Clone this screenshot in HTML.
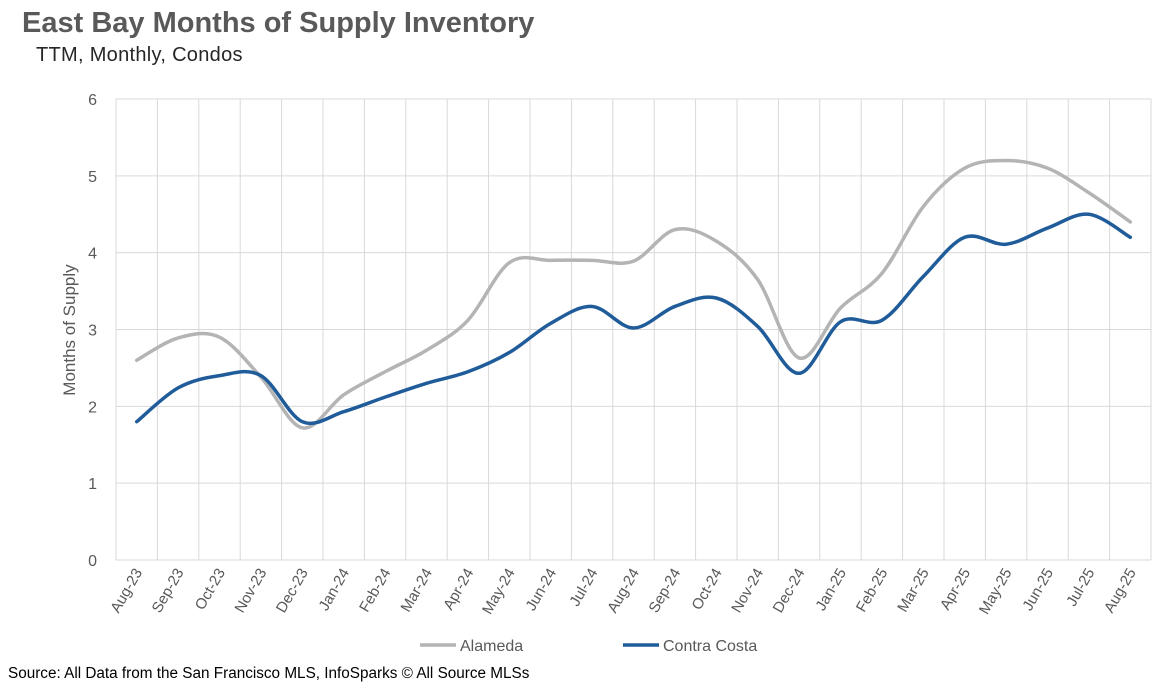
<!DOCTYPE html>
<html><head><meta charset="utf-8"><style>
body{margin:0;width:1170px;height:686px;background:#fff;font-family:"Liberation Sans",sans-serif;overflow:hidden;position:relative}
#title{position:absolute;left:22px;top:7px;font-size:29px;letter-spacing:0px;font-weight:bold;color:#595959}
#sub{position:absolute;left:36px;top:44px;font-size:20px;letter-spacing:0.3px;color:#262626}
#src{position:absolute;left:8px;top:665px;font-size:15.3px;color:#000}
</style></head><body>
<div id="title">East Bay Months of Supply Inventory</div>
<div id="sub">TTM, Monthly, Condos</div>
<svg id="chart" width="1170" height="686" style="position:absolute;left:0;top:0"></svg>
<div id="src">Source: All Data from the San Francisco MLS, InfoSparks © All Source MLSs</div>
<script>
const categories=["Aug-23","Sep-23","Oct-23","Nov-23","Dec-23","Jan-24","Feb-24","Mar-24","Apr-24","May-24","Jun-24","Jul-24","Aug-24","Sep-24","Oct-24","Nov-24","Dec-24","Jan-25","Feb-25","Mar-25","Apr-25","May-25","Jun-25","Jul-25","Aug-25"];
const alameda=[2.6,2.89,2.9,2.38,1.72,2.15,2.45,2.73,3.12,3.87,3.9,3.9,3.89,4.3,4.15,3.65,2.63,3.28,3.73,4.6,5.1,5.2,5.1,4.78,4.4];
const contraCosta=[1.8,2.24,2.4,2.4,1.8,1.93,2.12,2.3,2.45,2.7,3.08,3.3,3.02,3.3,3.41,3.04,2.43,3.1,3.12,3.69,4.2,4.11,4.32,4.5,4.2];
const yTicks=[0,1,2,3,4,5,6];
const NS="http://www.w3.org/2000/svg";
const svg=document.getElementById('chart');
const L=116,R=1151,T=99,B=560,step=(R-L)/categories.length;
const x=i=>L+step*(i+0.5);
const y=v=>B-(v/6)*(B-T);
function mk(t,a){const e=document.createElementNS(NS,t);for(const k in a)e.setAttribute(k,a[k]);svg.appendChild(e);return e;}
yTicks.forEach(v=>{
 const g=mk('line',{x1:L,x2:R,y1:y(v),y2:y(v),stroke:'#d9d9d9','stroke-width':1});
 
 
 const t=mk('text',{x:97,y:y(v)+6,'text-anchor':'end','font-size':16,fill:'#595959'});
 t.textContent=v;
 
 
});
for(let i=0;i<=categories.length;i++){
 const g=mk('line',{x1:L+step*i,x2:L+step*i,y1:T,y2:B,stroke:'#d9d9d9','stroke-width':1});
 
 
}
categories.forEach((c,i)=>{
 const t=mk('text',{x:x(i)+6,y:572,'text-anchor':'end','font-size':15,fill:'#595959',transform:`rotate(-60 ${x(i)+6} 572)`});
 t.textContent=c;
 
 
});
const yt=mk('text',{x:75,y:330,'text-anchor':'middle','font-size':17,fill:'#595959',transform:'rotate(-90 75 330)'});
yt.textContent='Months of Supply';


function path(vals){
 const p=vals.map((v,i)=>[x(i),y(v)]);
 let d=`M${p[0][0]},${p[0][1]}`;
 for(let i=0;i<p.length-1;i++){
  const p0=p[i-1]||p[i],p1=p[i],p2=p[i+1],p3=p[i+2]||p[i+1];
  const k=1/6;
  d+=` C${p1[0]+(p2[0]-p0[0])*k},${p1[1]+(p2[1]-p0[1])*k} ${p2[0]-(p3[0]-p1[0])*k},${p2[1]-(p3[1]-p1[1])*k} ${p2[0]},${p2[1]}`;
 }
 return d;
}
const s1=mk('path',{d:path(alameda),fill:'none',stroke:'#b4b4b4','stroke-width':3.5,'stroke-linecap':'round'});


const s2=mk('path',{d:path(contraCosta),fill:'none',stroke:'#1f5c99','stroke-width':3.5,'stroke-linecap':'round'});


[[420,'#b4b4b4','Alameda'],[623,'#1f5c99','Contra Costa']].forEach(([lx,c,n])=>{
 const l=mk('line',{x1:lx,x2:lx+36,y1:645,y2:645,stroke:c,'stroke-width':3.5});
 
 
 const t=mk('text',{x:lx+40,y:651,'font-size':16,fill:'#595959'});
 t.textContent=n;
 
 
});
</script>
</body></html>
